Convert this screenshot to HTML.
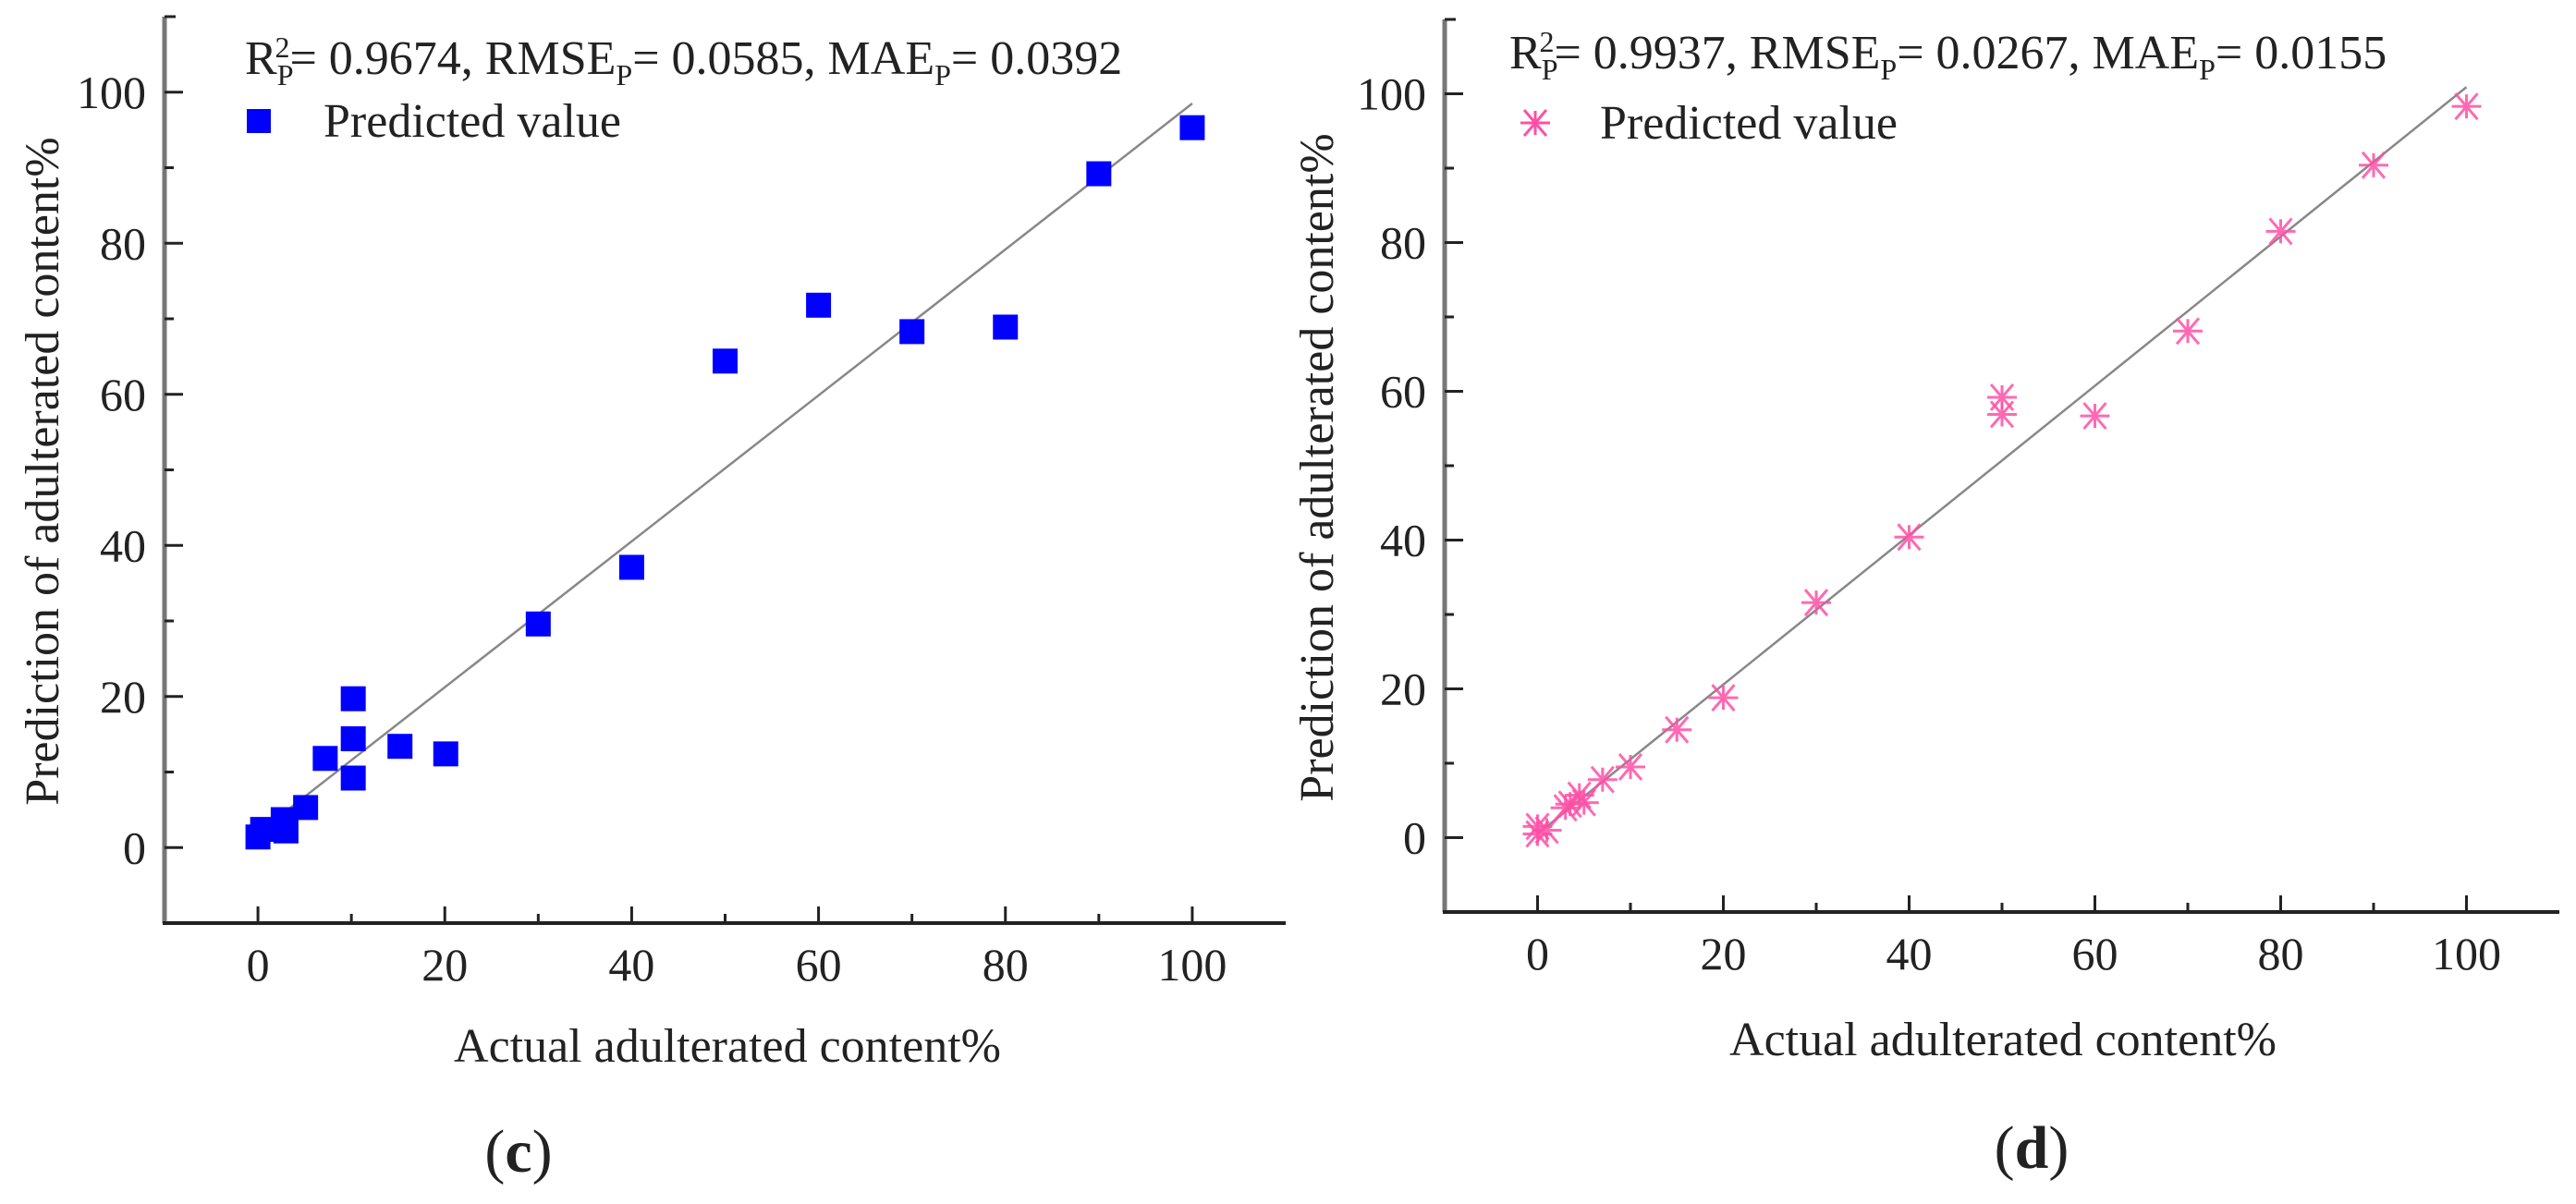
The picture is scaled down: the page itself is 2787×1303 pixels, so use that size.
<!DOCTYPE html>
<html><head><meta charset="utf-8"><style>
html,body{margin:0;padding:0;background:#fff}
svg{display:block;font-family:"Liberation Serif","Times New Roman","DejaVu Serif",serif}
svg text{font-family:"Liberation Serif","Times New Roman","DejaVu Serif",serif;fill:#222}
</style></head><body>
<svg id="fig" width="2787" height="1303" viewBox="0 0 2787 1303" font-family="Liberation Serif, DejaVu Serif, serif">
<g id="pc"></g>
<g id="pd"></g>
</svg>
<script>
// Chart (c) data
const actualC = [0, 0.5, 2.7, 3, 5.1, 7.2, 10.2, 10.2, 10.2, 15.2, 20.1, 30, 40, 50, 60, 70, 80, 90, 100];
const predC   = [1.4, 2.4, 3.7, 2.2, 5.3, 11.8, 19.7, 14.4, 9.2, 13.4, 12.4, 29.6, 37.1, 64.4, 71.8, 68.3, 68.9, 89.2, 95.3];
const fitC = [1.9, 0.966];
// Chart (d) data
const actualD = [0, 0, 1, 3, 3.5, 4.5, 5, 7, 10, 15, 20, 30, 40, 50, 50, 60, 70, 80, 90, 100];
const predD   = [0.5, 1.5, 1, 4, 4.5, 5.7, 4.7, 7.8, 9.5, 14.5, 18.8, 31.6, 40.4, 59.2, 56.9, 56.7, 68.1, 81.5, 90.4, 98.3];
const fitD = [0.5, 1.004];
const xTicks = [0, 20, 40, 60, 80, 100];
const yTicks = [0, 20, 40, 60, 80, 100];
const minorTicks = [10, 30, 50, 70, 90];

const NS = "http://www.w3.org/2000/svg";
const FF = '"Liberation Serif", "DejaVu Serif", serif';
function mk(parent, tag, attrs, txt) {
  const e = document.createElementNS(NS, tag);
  for (const k in attrs) e.setAttribute(k, attrs[k]);
  if (tag === 'text') e.style.fontFamily = FF;
  if (txt !== undefined) e.textContent = txt;
  parent.appendChild(e);
  return e;
}

function drawChart(g, cfg) {
  const sx = v => cfg.x0 + (v - (-10)) / 120 * (cfg.x1 - cfg.x0);
  const sy = v => cfg.y0 - (v - (-10)) / 120 * (cfg.y0 - cfg.y1);
  const ya = mk(g, 'line', {x1: cfg.x0, y1: cfg.y0, x2: cfg.x0, y2: cfg.y1, stroke: '#777', 'stroke-width': 5});
  
  
  const xa = mk(g, 'line', {x1: cfg.x0 - 2, y1: cfg.y0, x2: cfg.x1, y2: cfg.y0, stroke: '#222', 'stroke-width': 4});
  
  
  mk(g, 'line', {x1: cfg.x0, y1: cfg.y1, x2: cfg.x0 + 12, y2: cfg.y1, stroke: '#222', 'stroke-width': 3});
  xTicks.forEach(v => {
    mk(g, 'line', {x1: sx(v), y1: cfg.y0, x2: sx(v), y2: cfg.y0 - 18, stroke: '#222', 'stroke-width': 3});
    const t = mk(g, 'text', {x: sx(v), y: cfg.y0 + 62, 'font-size': 50, 'text-anchor': 'middle'}, v);
    
    
  });
  minorTicks.forEach(v => {
    mk(g, 'line', {x1: sx(v), y1: cfg.y0, x2: sx(v), y2: cfg.y0 - 10, stroke: '#222', 'stroke-width': 3});
    mk(g, 'line', {x1: cfg.x0, y1: sy(v), x2: cfg.x0 + 10, y2: sy(v), stroke: '#222', 'stroke-width': 3});
  });
  yTicks.forEach(v => {
    mk(g, 'line', {x1: cfg.x0, y1: sy(v), x2: cfg.x0 + 20, y2: sy(v), stroke: '#222', 'stroke-width': 3});
    const t = mk(g, 'text', {x: cfg.x0 - 20, y: sy(v) + 17, 'font-size': 50, 'text-anchor': 'end'}, v);
    
    
  });
  const fl = mk(g, 'line', {x1: sx(0), y1: sy(cfg.fit[0]), x2: sx(100), y2: sy(cfg.fit[0] + 100 * cfg.fit[1]), stroke: '#888', 'stroke-width': 2.5});
  
  
  cfg.xs.forEach((xv, i) => {
    const cx = sx(xv), cy = sy(cfg.ys[i]);
    let m;
    if (cfg.marker === 'square') {
      m = mk(g, 'rect', {x: cx - 13.5, y: cy - 13.5, width: 27, height: 27, fill: '#0000ff'});
    } else {
      m = mk(g, 'path', {d: `M${cx-16},${cy}H${cx+16}M${cx},${cy-13}V${cy+13}M${cx-12},${cy-14}L${cx+12},${cy+14}M${cx-12},${cy+14}L${cx+12},${cy-14}`, stroke: '#ff4fa6', 'stroke-width': 3, fill: 'none', opacity: 0.85});
    }
    
    
  });
  const an = mk(g, 'text', {x: cfg.annX, y: cfg.annY, 'font-size': 52});
  
  
  an.innerHTML = `R<tspan font-size="32" dy="12">P</tspan><tspan font-size="32" dx="-20" dy="-30">2</tspan><tspan dy="18">= ${cfg.r2}, RMSE</tspan><tspan font-size="32" dy="12">P</tspan><tspan dy="-12">= ${cfg.rmse}, MAE</tspan><tspan font-size="32" dy="12">P</tspan><tspan dy="-12">= ${cfg.mae}</tspan>`;
  const lx = cfg.legX, ly = cfg.legY;
  let lm;
  if (cfg.marker === 'square') lm = mk(g, 'rect', {x: lx - 13, y: ly - 13, width: 26, height: 26, fill: '#0000ff'});
  else lm = mk(g, 'path', {d: `M${lx-16},${ly}H${lx+16}M${lx},${ly-13}V${ly+13}M${lx-12},${ly-14}L${lx+12},${ly+14}M${lx-12},${ly+14}L${lx+12},${ly-14}`, stroke: '#ff4fa6', 'stroke-width': 3, fill: 'none'});
  
  
  const lt = mk(g, 'text', {x: cfg.legTX, y: ly + 17, 'font-size': 52}, 'Predicted value');
  
  
  const xt = mk(g, 'text', {x: cfg.xtX, y: cfg.xtY + 17, 'font-size': 52, 'text-anchor': 'middle'}, 'Actual adulterated content%');
  
  
  const yt = mk(g, 'text', {x: 0, y: 0, 'font-size': 52, 'text-anchor': 'middle', transform: `translate(${cfg.ytX + 17},${cfg.ytY}) rotate(-90)`}, 'Prediction of adulterated content%');
  
  
  const pl = mk(g, 'text', {x: cfg.plX, y: cfg.plY + 22, 'font-size': 66, 'text-anchor': 'middle'});
  pl.innerHTML = `(<tspan font-weight="bold">${cfg.label}</tspan>)`;
  
  
}

drawChart(document.getElementById('pc'), {
  x0: 178, x1: 1391, y0: 999, y1: 18, xs: actualC, ys: predC, fit: fitC, marker: 'square',
  annX: 265, annY: 80, r2: '0.9674', rmse: '0.0585', mae: '0.0392',
  legX: 280, legY: 131, legTX: 350, xtX: 787, xtY: 1132, ytX: 46, ytY: 510, plX: 561, plY: 1246, label: 'c'
});
drawChart(document.getElementById('pd'), {
  x0: 1563, x1: 2769, y0: 987, y1: 21, xs: actualD, ys: predD, fit: fitD, marker: 'star',
  annX: 1633, annY: 74, r2: '0.9937', rmse: '0.0267', mae: '0.0155',
  legX: 1661, legY: 133, legTX: 1731, xtX: 2167, xtY: 1125, ytX: 1425, ytY: 506, plX: 2198, plY: 1242, label: 'd'
});
</script>
</body></html>
